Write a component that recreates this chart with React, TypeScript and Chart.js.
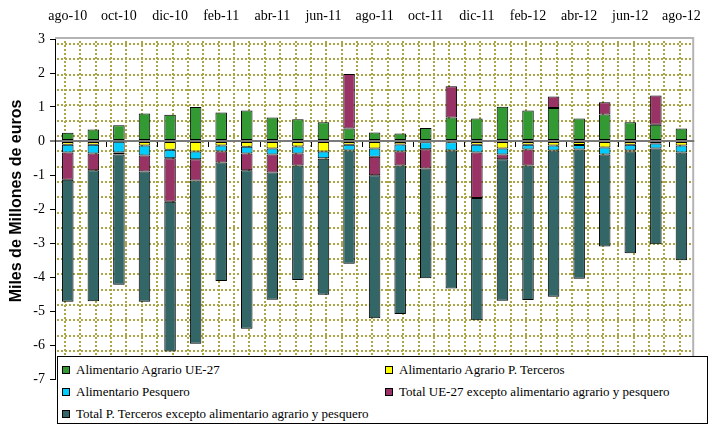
import React, { useEffect, useRef } from 'react';
import { Chart, registerables } from 'chart.js';

Chart.register(...registerables);

const months = [
  'ago-10', 'sep-10', 'oct-10', 'nov-10', 'dic-10', 'ene-11', 'feb-11', 'mar-11', 'abr-11',
  'may-11', 'jun-11', 'jul-11', 'ago-11', 'sep-11', 'oct-11', 'nov-11', 'dic-11', 'ene-12',
  'feb-12', 'mar-12', 'abr-12', 'may-12', 'jun-12', 'jul-12', 'ago-12',
];

const agrarioUE = [0.24, 0.34, 0.46, 0.81, 0.77, 1.0, 0.84, 0.9, 0.69, 0.64, 0.55, 0.37, 0.25, 0.22, 0.38, 0.69, 0.66, 1.01, 0.9, 0.97, 0.66, 0.78, 0.55, 0.48, 0.37];
const agrarioPT = [-0.11, -0.11, -0.02, -0.13, -0.26, -0.31, -0.13, -0.17, -0.22, -0.16, -0.31, -0.11, -0.22, -0.1, -0.04, -0.04, -0.11, -0.22, -0.11, -0.13, -0.12, -0.19, -0.11, -0.07, -0.13];
const pesquero = [-0.23, -0.26, -0.32, -0.3, -0.25, -0.23, -0.18, -0.2, -0.18, -0.21, -0.2, -0.17, -0.24, -0.21, -0.2, -0.24, -0.23, -0.18, -0.14, -0.15, -0.13, -0.21, -0.17, -0.15, -0.21];
const restoUE = [-0.8, -0.49, -0.06, -0.47, -1.28, -0.62, -0.32, -0.49, -0.53, -0.35, -0.01, 1.6, -0.55, -0.41, -0.57, 0.92, -1.34, -0.14, -0.47, 0.34, null, 0.36, -0.03, 0.86, null];
const restoPT = [-3.59, -3.85, -3.83, -3.83, -4.4, -4.8, -3.49, -4.66, -3.74, -3.37, -4.0, -3.33, -4.2, -4.37, -3.23, -4.06, -3.59, -4.16, -3.96, -4.3, -3.8, -2.7, -2.99, -2.82, -3.17];

const seriesNames = [
  'Alimentario Agrario UE-27',
  'Alimentario Agrario P. Terceros',
  'Alimentario Pesquero',
  'Total UE-27 excepto alimentario agrario y pesquero',
  'Total P. Terceros excepto alimentario agrario y pesquero',
];
const seriesValues = [agrarioUE, agrarioPT, pesquero, restoUE, restoPT];
const seriesColors = ['#339933', '#FFFF00', '#00CCFF', '#993366', '#336666'];

const yMin = -7;
const yMax = 3;
const yStep = 1;
const yTitle = 'Miles de Millones de euros';

const SERIF = "'Liberation Serif', 'Times New Roman', Times, 'DejaVu Serif', serif";

const decorPlugin = {
  id: 'decor',
  beforeDraw(chart: any) {
    const { ctx, chartArea: a } = chart;
    ctx.save();
    ctx.strokeStyle = '#aaa545';
    ctx.lineWidth = 2;
    ctx.setLineDash([2, 2]);
    for (let x = a.left + 10; x < a.right - 3; x += 15.37) {
      const xx = Math.round(x);
      ctx.beginPath();
      ctx.moveTo(xx, a.top + 2);
      ctx.lineTo(xx, a.bottom);
      ctx.stroke();
    }
    for (let y = a.top + 5; y < a.bottom; y += 15.35) {
      const yy = Math.round(y);
      ctx.beginPath();
      ctx.moveTo(a.left + 2, yy);
      ctx.lineTo(a.right - 2, yy);
      ctx.stroke();
    }
    ctx.setLineDash([]);
    ctx.strokeStyle = '#b4b4b4';
    ctx.lineWidth = 2;
    ctx.beginPath();
    ctx.moveTo(a.left, a.top - 1);
    ctx.lineTo(a.right - 1, a.top - 1);
    ctx.lineTo(a.right - 1, a.bottom);
    ctx.stroke();
    ctx.restore();
  },
  afterDatasetsDraw(chart: any) {
    const { ctx } = chart;
    const xs = chart.scales.x;
    const ys = chart.scales.y;
    const y0 = Math.round(ys.getPixelForValue(0));
    ctx.save();
    ctx.strokeStyle = '#000';
    ctx.lineWidth = 1;
    for (let i = 2; i < months.length; i += 2) {
      const x = Math.round((xs.getPixelForValue(i - 1) + xs.getPixelForValue(i)) / 2) + 0.5;
      ctx.beginPath();
      ctx.moveTo(x, y0 + 1);
      ctx.lineTo(x, y0 + 6);
      ctx.stroke();
    }
    ctx.restore();
  },
};

export default function App() {
  const canvasRef = useRef<HTMLCanvasElement | null>(null);

  useEffect(() => {
    document.body.style.margin = '0';
    const canvas = canvasRef.current;
    if (!canvas) return;
    const chart = new Chart(canvas, {
      type: 'bar',
      data: {
        labels: months,
        datasets: seriesNames.map((name, i) => ({
          label: name,
          data: seriesValues[i] as any,
          backgroundColor: seriesColors[i],
          borderColor: '#000',
          borderWidth: 1,
          borderSkipped: false,
          barPercentage: 0.45,
          categoryPercentage: 1.0,
        })),
      },
      options: {
        animation: false,
        responsive: false,
        devicePixelRatio: 1,
        layout: { padding: { left: 0, right: 7, top: 0, bottom: 51 } },
        plugins: {
          legend: { display: false },
          tooltip: { enabled: false },
        },
        scales: {
          x: {
            stacked: true,
            position: 'top',
            grid: { display: false, drawTicks: false },
            border: { display: false },
            ticks: {
              autoSkip: false,
              maxRotation: 0,
              minRotation: 0,
              padding: 14,
              color: '#000',
              font: { family: SERIF, size: 14 },
              callback: (_v: any, i: number) => (i % 2 === 0 ? months[i] : ''),
            },
            afterFit: (s: any) => {
              s.height = 39;
            },
          },
          y: {
            stacked: true,
            min: yMin,
            max: yMax,
            ticks: {
              stepSize: yStep,
              padding: 5,
              color: '#000',
              font: { family: SERIF, size: 14 },
            },
            grid: {
              color: (c: any) => (c.tick && c.tick.value === 0 ? '#7a7a7a' : 'rgba(0,0,0,0)'),
              lineWidth: (c: any) => (c.tick && c.tick.value === 0 ? 2 : 1),
              tickColor: '#000',
              tickWidth: 1,
              tickLength: 5,
              drawTicks: true,
            },
            border: { display: true, color: '#000', width: 1 },
            afterFit: (s: any) => {
              s.width = 55;
            },
          },
        },
      },
      plugins: [decorPlugin],
    } as any);
    return () => chart.destroy();
  }, []);

  const legendPos = [
    { left: 4, top: 5 },
    { left: 327, top: 5 },
    { left: 4, top: 27 },
    { left: 327, top: 27 },
    { left: 4, top: 49 },
  ];

  return (
    <div style={{ position: 'relative', width: 715, height: 430, background: '#fff' }}>
      <canvas ref={canvasRef} width={715} height={430} style={{ display: 'block' }} />
      <div
        style={{
          position: 'absolute',
          left: 16 - 130,
          top: 201 - 10,
          width: 260,
          height: 20,
          lineHeight: '20px',
          textAlign: 'center',
          transform: 'rotate(-90deg)',
          fontFamily: '"Liberation Sans", Arial, sans-serif',
          fontWeight: 'bold',
          fontSize: 16,
          whiteSpace: 'nowrap',
          color: '#000',
        }}
      >
        {yTitle}
      </div>
      <div
        style={{
          position: 'absolute',
          left: 57,
          top: 356,
          width: 651,
          height: 68,
          boxSizing: 'border-box',
          border: '1px solid #000',
          background: '#fff',
        }}
      >
        {seriesNames.map((name, i) => (
          <div
            key={name}
            style={{
              position: 'absolute',
              left: legendPos[i].left,
              top: legendPos[i].top,
              height: 16,
              display: 'flex',
              alignItems: 'center',
              whiteSpace: 'nowrap',
              fontFamily: SERIF,
              fontSize: 13,
              color: '#000',
            }}
          >
            <span
              style={{
                display: 'inline-block',
                width: 6,
                height: 6,
                border: '1px solid #000',
                background: seriesColors[i],
                marginRight: 6,
              }}
            />
            {name}
          </div>
        ))}
      </div>
    </div>
  );
}
